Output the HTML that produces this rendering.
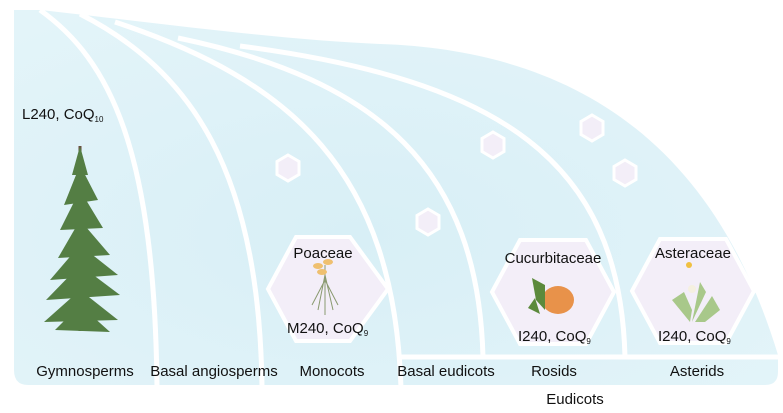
<!DOCTYPE html>
<html><head><meta charset="utf-8"><style>
html,body{margin:0;padding:0;background:#fff;}
svg{display:block;font-family:"Liberation Sans",Arial,sans-serif;}
</style></head><body>
<svg width="783" height="413" viewBox="0 0 783 413" xmlns="http://www.w3.org/2000/svg">
<defs>
<radialGradient id="bg" cx="0.45" cy="0.6" r="0.7">
<stop offset="0" stop-color="#d8eff6"/><stop offset="1" stop-color="#e3f4f9"/>
</radialGradient>
</defs>
<path d="M14,10 L40,10 C150,22 280,40 380,44 C560,50 710,130 778,355 L778,372 Q778,385 765,385 L28,385 Q14,385 14,370 Z" fill="url(#bg)"/>
<g fill="none" stroke="#fff" stroke-width="5">
<path d="M40,10 C110,60 155,150 157,390"/>
<path d="M80,14 C190,70 260,170 262,390"/>
<path d="M115,22 C290,80 395,170 401,390"/>
<path d="M178,38 C380,80 478,170 483,357"/>
<path d="M240,46 C500,80 620,160 625,357"/>
<path d="M401,357 L783,357"/>
</g>
<g fill="#f3eef8" stroke="#fff" stroke-width="3">
<polygon points="288,155 299,161.5 299,174.5 288,181 277,174.5 277,161.5"/>
<polygon points="493,132 504,138.5 504,151.5 493,158 482,151.5 482,138.5"/>
<polygon points="428,209 439,215.5 439,228.5 428,235 417,228.5 417,215.5"/>
<polygon points="592,115 603,121.5 603,134.5 592,141 581,134.5 581,121.5"/>
<polygon points="625,160 636,166.5 636,179.5 625,186 614,179.5 614,166.5"/>
</g>
<g fill="#f3eef8" stroke="#fff" stroke-width="4">
<polygon points="268,289 296,237 350,237 388,289 350,341 296,341"/>
<polygon points="492,292 520,240 586,240 614,292 586,344 520,344"/>
<polygon points="632,291 660,239 726,239 754,291 726,343 660,343"/>
</g>
<g>
<rect x="78.5" y="146" width="3" height="185" fill="#6b4a3e"/>
<g fill="#547e44">
<path d="M80,146 L88,175 L72,175Z"/>
<path d="M80,165 L98,200 L64,205Z"/>
<path d="M80,190 L103,228 L60,230Z"/>
<path d="M80,220 L110,255 L58,258Z"/>
<path d="M80,245 L118,275 L50,280Z"/>
<path d="M80,265 L120,295 L46,300Z"/>
<path d="M80,290 L118,320 L44,322Z"/>
<path d="M80,305 L110,332 L55,330Z"/>
</g>
</g>
<g stroke="#8a9a70" stroke-width="1" fill="none">
<path d="M325,265 L325,315 M325,280 L312,305 M325,280 L338,305 M325,275 L318,310 M325,275 L333,310"/>
</g>
<g fill="#efc070"><ellipse cx="318" cy="266" rx="5" ry="3"/><ellipse cx="328" cy="262" rx="5" ry="3"/><ellipse cx="322" cy="272" rx="5" ry="3"/></g>
<ellipse cx="558" cy="300" rx="16" ry="14" fill="#e8924a"/>
<path d="M545,285 L532,278 L536,300 L545,310Z" fill="#5c8a3c"/>
<path d="M535,298 L528,308 L540,314Z" fill="#5c8a3c"/>
<g fill="#a8c88a"><path d="M690,322 L672,300 L684,292 L692,310Z"/><path d="M695,322 L712,296 L720,310 L705,322Z"/><path d="M692,322 L700,282 L706,292Z"/></g>
<circle cx="692" cy="289" r="4" fill="#f5f0e0"/>
<circle cx="689" cy="265" r="3" fill="#f0c040"/>
<g font-size="15" fill="#111">
<text x="22" y="119">L240, CoQ<tspan font-size="8" dy="3">10</tspan></text>
<text x="323" y="258" text-anchor="middle">Poaceae</text>
<text x="287" y="333">M240, CoQ<tspan font-size="8" dy="3">9</tspan></text>
<text x="553" y="263" text-anchor="middle">Cucurbitaceae</text>
<text x="518" y="341">I240, CoQ<tspan font-size="8" dy="3">9</tspan></text>
<text x="693" y="258" text-anchor="middle">Asteraceae</text>
<text x="658" y="341">I240, CoQ<tspan font-size="8" dy="3">9</tspan></text>
<text x="85" y="376" text-anchor="middle">Gymnosperms</text>
<text x="214" y="376" text-anchor="middle">Basal angiosperms</text>
<text x="332" y="376" text-anchor="middle">Monocots</text>
<text x="446" y="376" text-anchor="middle">Basal eudicots</text>
<text x="554" y="376" text-anchor="middle">Rosids</text>
<text x="697" y="376" text-anchor="middle">Asterids</text>
<text x="575" y="404" text-anchor="middle">Eudicots</text>
</g>
</svg>
</body></html>
